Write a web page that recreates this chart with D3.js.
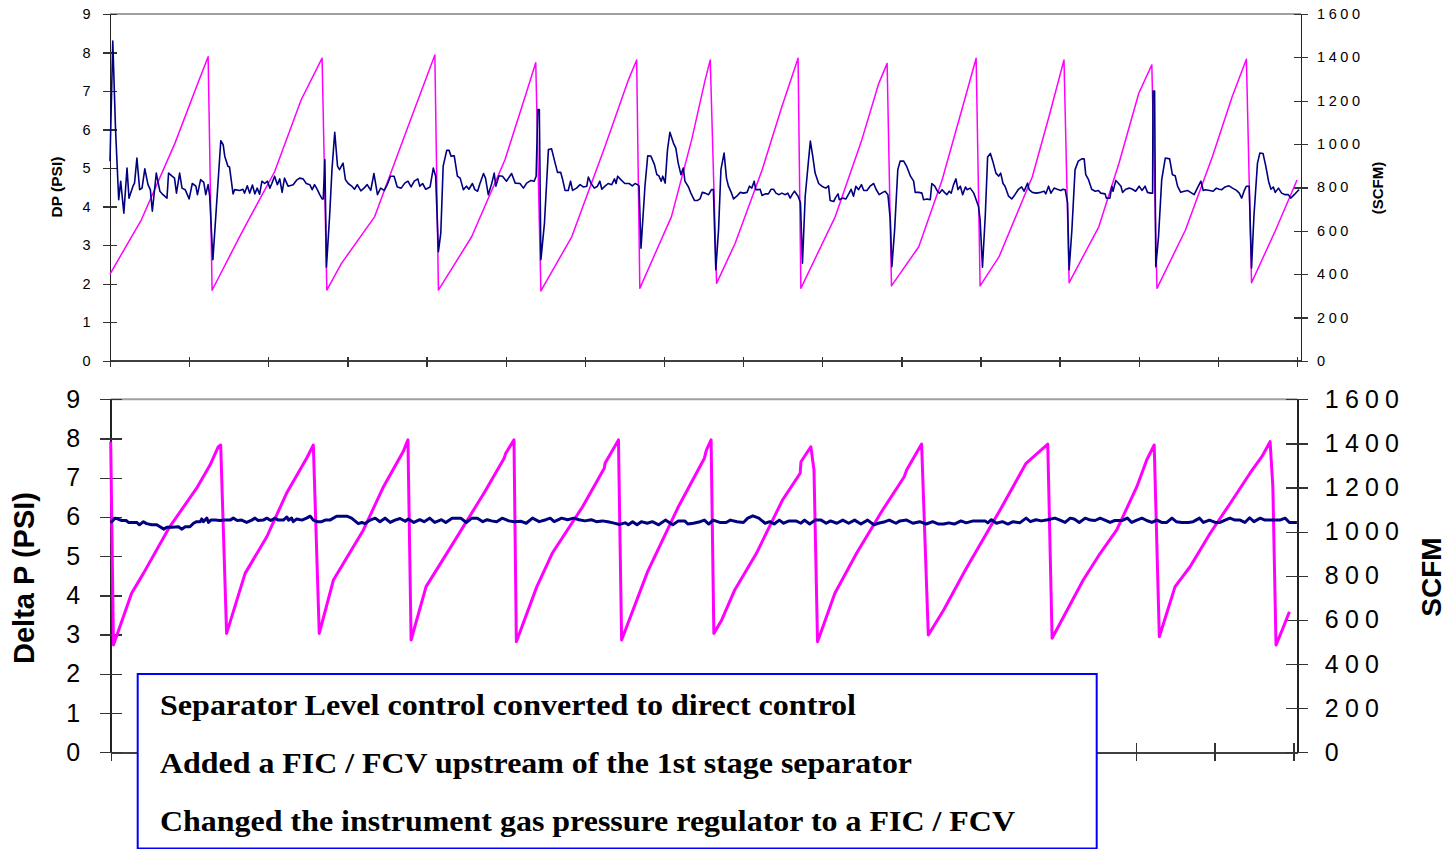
<!DOCTYPE html>
<html>
<head>
<meta charset="utf-8">
<script src="https://cdn.jsdelivr.net/npm/d3@7"></script>
<style>
  body { margin: 0; background: #fff; }
  svg { display: block; }
</style>
</head>
<body>
<div id="chart"><svg width="1452" height="849"></svg></div>
<script>
// axis ticks
const dpTicks = [0, 1, 2, 3, 4, 5, 6, 7, 8, 9];
const scfmTicks = [0, 200, 400, 600, 800, 1000, 1200, 1400, 1600];
const sampleTicks = [0, 20, 40, 60, 80, 100, 120, 140, 160, 180, 200, 220, 240, 260, 280, 300];

// before: [sample, DP psi]
const dpBefore = [[0,5.18],[0.7,8.3],[1.4,6.0],[2.2,4.18],[2.7,4.66],[3.5,3.83],[4.3,5.0],[4.8,4.22],[5.8,4.53],[6.2,4.61],[6.8,5.26],[7.5,4.44],[8.1,4.48],[8.8,4.98],[9.6,4.57],[10.2,4.44],[10.7,3.88],[11.7,4.87],[12.6,4.4],[13.4,4.31],[14.4,4.22],[14.8,4.87],[15.7,4.79],[16.3,4.74],[16.8,4.35],[17.6,4.87],[18.2,4.48],[19.0,4.44],[20.0,4.2],[20.8,4.6],[21.7,4.53],[22.1,4.31],[22.9,4.7],[23.7,4.63],[24.2,4.31],[24.8,4.57],[25.2,4.27],[26.0,2.62],[26.9,4.0],[28.0,5.71],[28.6,5.61],[29.0,5.31],[29.8,5.05],[30.2,5.03],[31.1,4.33],[31.5,4.44],[32.8,4.42],[33.6,4.45],[34.0,4.35],[34.7,4.54],[35.3,4.35],[36.0,4.56],[36.6,4.33],[37.2,4.48],[37.8,4.32],[38.4,4.66],[39.1,4.6],[39.8,4.66],[40.4,4.48],[40.9,4.6],[41.6,4.79],[42.3,4.57],[42.9,4.72],[43.5,4.37],[44.1,4.74],[45.0,4.53],[46.3,4.57],[47.1,4.68],[47.9,4.74],[48.8,4.72],[49.6,4.6],[50.5,4.57],[51.1,4.44],[51.7,4.57],[52.4,4.44],[53.0,4.31],[53.6,4.2],[53.9,4.2],[54.3,5.22],[54.7,2.43],[55.5,3.75],[56.1,4.96],[56.8,5.93],[57.5,5.05],[58.0,4.96],[58.9,5.13],[59.5,4.7],[60.2,4.6],[61.0,4.54],[61.8,4.45],[62.5,4.57],[63.4,4.41],[64.2,4.48],[65.0,4.57],[65.9,4.42],[66.7,4.86],[67.6,4.31],[68.4,4.48],[69.3,4.42],[70.1,4.58],[70.9,4.79],[71.8,4.79],[72.6,4.51],[73.6,4.48],[74.5,4.61],[75.3,4.66],
  [76.1,4.51],[76.9,4.66],[77.8,4.72],[78.3,4.53],[79.0,4.6],[79.8,4.45],[80.9,4.51],[81.7,5.0],[82.3,4.79],[83.0,2.83],[83.6,3.31],[84.2,5.05],[85.1,5.46],[85.7,5.46],[86.2,5.31],[87.0,5.32],[87.8,4.79],[88.5,4.74],[89.3,4.44],[90.1,4.53],[90.7,4.45],[91.6,4.6],[92.2,4.44],[92.9,4.4],[93.5,4.6],[94.4,4.86],[94.9,4.74],[95.6,4.31],[96.5,4.61],[97.1,4.87],[97.5,4.53],[98.3,4.8],[99.2,4.79],[100.2,4.66],[101.5,4.86],[102.4,4.61],[103.6,4.6],[104.5,4.48],[105.3,4.61],[106.4,4.68],[107.2,4.66],[107.7,4.79],[108.1,6.52],[108.5,6.52],[108.9,2.62],[109.8,3.57],[110.8,5.48],[111.6,5.5],[112.5,5.13],[113.1,4.89],[113.9,4.89],[114.4,4.7],[115.0,4.42],[115.8,4.42],[116.4,4.66],[116.9,4.42],[117.9,4.48],[118.8,4.57],[119.6,4.51],[120.5,4.53],[120.9,4.77],[121.6,4.6],[122.4,4.48],[123.2,4.53],[123.8,4.66],[124.3,4.45],[125.1,4.53],[125.9,4.6],[126.8,4.57],[127.5,4.72],[127.9,4.6],[128.3,4.79],[129.1,4.7],[130.1,4.6],[131.2,4.6],[132.0,4.54],[132.7,4.6],[133.3,4.57],[133.7,4.54],[134.2,2.92],[135.2,4.53],[135.9,5.32],[136.7,5.31],[137.6,5.09],[138.2,4.83],[138.7,4.8],[139.3,4.66],[139.7,4.79],[140.3,4.61],[140.9,5.48],[141.5,5.93],[142.4,5.65],[143.0,5.52],[143.6,5.13],[144.3,4.83],[144.9,5.0],[145.3,4.66],[146.2,4.51],[146.8,4.35],[147.7,4.16],[148.5,4.16],[149.1,4.2],[149.7,4.37],
  [150.4,4.35],[151.3,4.31],[152.0,4.44],[152.5,4.44],[153.1,2.36],[153.8,3.4],[154.4,4.96],[155.2,5.39],[155.8,4.74],[156.3,4.53],[157.0,4.37],[157.6,4.2],[158.4,4.27],[159.3,4.37],[160.1,4.35],[161.0,4.37],[161.6,4.53],[162.2,4.48],[162.8,4.66],[163.2,4.44],[163.9,4.44],[164.3,4.45],[164.8,4.29],[165.6,4.33],[166.4,4.33],[167.1,4.45],[167.7,4.45],[168.3,4.35],[169.1,4.31],[169.8,4.35],[170.7,4.31],[171.3,4.35],[171.9,4.22],[172.5,4.33],[173.0,4.4],[173.9,4.27],[174.5,4.1],[175.0,2.53],[175.7,4.27],[176.4,5.05],[177.0,5.7],[177.6,5.31],[178.2,4.87],[179.1,4.6],[179.9,4.53],[180.9,4.48],[181.6,4.54],[182.0,4.16],[182.9,4.13],[183.3,4.22],[184.0,4.33],[184.3,4.18],[185.2,4.22],[186.0,4.2],[186.7,4.33],[187.3,4.45],[187.9,4.27],[188.5,4.53],[189.2,4.44],[189.9,4.57],[190.5,4.42],[191.3,4.42],[192.1,4.53],[193.0,4.6],[193.6,4.45],[194.4,4.31],[195.3,4.37],[195.9,4.4],[196.6,4.31],[197.2,3.66],[197.6,2.44],[198.3,3.4],[199.1,4.96],[199.7,5.18],[200.6,5.18],[201.4,5.03],[202.3,4.79],[203.1,4.66],[203.5,4.37],[204.4,4.37],[205.2,4.35],[205.6,4.18],[206.5,4.2],[207.3,4.18],[207.7,4.6],[208.4,4.54],[209.0,4.42],[209.6,4.35],[210.3,4.44],[210.9,4.37],[211.5,4.31],[212.1,4.4],[212.6,4.35],[213.2,4.57],[213.8,4.72],[214.3,4.44],[214.9,4.53],[215.5,4.31],[216.2,4.51],[216.6,4.44],[217.4,4.48],[218.3,4.35],[218.9,4.18],[219.5,4.0],[219.9,3.66],[220.5,2.43],[221.2,3.75],[221.8,5.29],[222.5,5.38],[223.1,5.18],[223.9,4.87],[224.6,4.79],
  [225.1,4.87],[225.7,4.6],[226.2,4.53],[227.1,4.27],[227.9,4.2],[228.7,4.31],[229.6,4.45],[230.4,4.51],[231.0,4.4],[231.9,4.61],[232.3,4.44],[233.1,4.37],[234.1,4.35],[235.2,4.37],[236.1,4.4],[236.5,4.33],[237.2,4.53],[237.8,4.35],[238.6,4.48],[239.4,4.45],[240.3,4.42],[240.9,4.45],[241.4,4.44],[242.0,4.1],[242.4,2.36],[243.1,3.4],[243.9,4.96],[244.7,5.18],[245.6,5.24],[246.2,5.24],[246.6,4.83],[247.3,4.7],[248.1,4.45],[249.0,4.4],[249.8,4.42],[250.4,4.35],[251.5,4.33],[251.8,4.22],[252.7,4.22],[253.2,4.53],[253.5,4.4],[254.2,4.68],[254.9,4.6],[255.5,4.53],[255.9,4.37],[256.7,4.45],[257.6,4.48],[258.4,4.45],[259.2,4.4],[260.1,4.53],[260.8,4.42],[261.6,4.53],[262.2,4.37],[263.0,4.35],[263.5,4.35],[263.6,7.0],[264.0,7.0],[264.3,2.44],[265.0,3.23],[265.8,4.7],[266.7,5.26],[267.8,5.24],[268.5,4.83],[269.2,4.8],[269.8,4.53],[270.6,4.37],[271.5,4.4],[272.3,4.42],[273.1,4.37],[274.0,4.31],[274.8,4.48],[275.7,4.66],[276.3,4.42],[276.9,4.44],[277.9,4.42],[278.8,4.4],[279.6,4.48],[280.3,4.45],[281.0,4.44],[281.8,4.51],[282.8,4.54],[283.7,4.48],[284.7,4.42],[285.4,4.35],[286.0,4.22],[286.6,4.4],[287.2,4.53],[287.9,4.53],[288.5,2.41],[289.1,3.75],[290.0,5.13],[290.6,5.39],[291.4,5.38],[292.1,5.05],[292.8,4.66],[293.4,4.45],[294.0,4.51],[294.5,4.37],[295.3,4.48],[296.1,4.35],[297.0,4.31],[297.8,4.31],[298.4,4.22],[299.3,4.31],[300.1,4.4],[300.5,4.44]];

// before: [sample, SCFM]
const scfmBefore = [[0,400],[7.9,649],[16.4,1003],[22.2,1280],[24.8,1403],[25.8,325],[33.2,588],[41.6,872],[48.3,1203],[53.6,1396],[54.8,326],[58.5,449],[66.9,665],[75.3,1080],[82.1,1411],[83.0,326],[91.4,572],[99.8,926],[104.9,1218],[107.6,1375],[108.9,322],[116.7,572],[125.1,988],[131.0,1295],[133.1,1388],[133.9,334],[141.9,665],[147.0,1019],[150.4,1295],[151.7,1388],[153.3,357],[158.0,542],[164.8,880],[169.8,1172],[173.9,1396],[174.6,334],[183.3,665],[190.0,1019],[194.3,1280],[196.4,1372],[197.5,345],[204.4,526],[210.3,834],[216.2,1218],[218.9,1396],[219.9,345],[224.7,480],[233.1,849],[237.3,1126],[241.1,1388],[242.4,360],[249.9,618],[255.0,911],[260.0,1234],[263.3,1365],[264.6,334],[271.8,603],[278.6,941],[283.6,1218],[287.2,1391],[288.5,360],[294.6,603],[300.0,834]];

// after: [sample, Delta P psi]
const dpAfter = [[0,5.85],[1.1,5.97],[1.7,5.95],[2.8,5.91],[3.9,5.91],[4.5,5.86],[6.6,5.86],[7.3,5.8],[8.3,5.88],[9.1,5.83],[10.4,5.8],[11.7,5.8],[12.5,5.75],[13.5,5.69],[14.2,5.74],[15.5,5.74],[17.2,5.75],[18.0,5.69],[18.9,5.75],[20.1,5.75],[21.0,5.84],[21.8,5.88],[22.7,5.88],[23.1,5.95],[23.5,5.88],[24.4,5.97],[24.8,5.86],[25.4,5.92],[26.5,5.92],[27.7,5.91],[29.0,5.92],[30.3,5.92],[31.1,5.97],[32.1,5.91],[33.2,5.92],[34.5,5.86],[35.8,5.92],[36.6,5.97],[37.4,5.91],[38.7,5.92],[39.6,5.97],[40.6,5.91],[41.7,5.97],[42.5,5.92],[43.8,5.92],[44.7,6.0],[45.1,5.92],[45.9,5.97],[46.3,5.88],[47.2,5.95],[48.5,5.92],[49.7,5.97],[50.6,6.02],[51.4,5.92],[52.4,5.88],[53.5,5.88],[54.4,5.92],[55.6,5.92],[57.3,6.02],[59.9,6.02],[61.1,5.97],[62.8,5.83],[63.7,5.86],[64.5,5.83],[65.8,5.92],[67.1,5.97],[68.3,5.88],[69.6,5.97],[70.9,5.86],[72.1,5.92],[73.4,5.96],[74.7,5.89],[75.5,5.95],[76.9,5.86],[78.4,5.93],[79.5,5.88],[80.9,5.97],[82.2,5.86],[83.9,5.93],[85.0,5.86],[86.6,5.97],[88.8,5.97],[90.2,5.86],[91.6,5.97],[93.0,5.97],[94.4,5.88],[95.5,5.93],[96.6,5.9],[97.9,5.88],[99.3,5.97],[101.0,5.9],[102.3,5.88],[104.1,5.89],[105.4,5.84],[107.0,5.97],[108.7,5.88],[110.4,5.93],[111.5,5.97],[112.5,5.88],[114.4,5.97],[115.9,5.93],[117.5,5.97],[118.8,5.93],[120.3,5.9],[121.9,5.93],[123.2,5.88],[124.7,5.9],[126.1,5.88],[127.4,5.85],[129.1,5.81],[130.5,5.85],[131.3,5.8],[132.4,5.88],[133.5,5.8],[134.6,5.88],[136.1,5.84],[137.4,5.88],[139.0,5.8],[140.7,5.92],[142.6,5.8],[144.0,5.9],[145.6,5.9],[146.4,5.82],[147.8,5.84],[149.5,5.88],[150.6,5.92],[151.7,5.82],[152.8,5.92],[154.5,5.86],[156.1,5.86],[157.2,5.92],[158.9,5.88],[160.5,5.86],[161.6,5.97],[162.9,6.03],[164.4,5.97],[166.0,5.84],[167.2,5.88],[168.3,5.82],[169.6,5.92],[170.7,5.84],[172.1,5.9],[173.8,5.9],[175.1,5.84],[176.0,5.92],[177.3,5.82],[178.7,5.92],[180.2,5.92],[181.5,5.84],[182.6,5.9],[184.2,5.84],[185.7,5.92],[187.2,5.84],[188.7,5.92],[190.3,5.82],[192.0,5.92],[193.6,5.8],[194.7,5.84],[196.4,5.88],[197.5,5.92],[199.2,5.84],[200.2,5.9],[201.9,5.92],[203.5,5.84],[205.2,5.88],[206.9,5.82],[208.5,5.88],[210.0,5.82],[211.3,5.82],[212.6,5.85],[214.0,5.82],[215.7,5.9],[217.0,5.85],[218.8,5.9],[220.1,5.9],[221.8,5.9],[222.5,5.85],[223.4,5.93],[224.7,5.84],[226.2,5.88],[227.6,5.82],[228.9,5.88],[230.6,5.85],[232.2,5.97],[233.3,5.88],[234.7,5.93],[236.1,5.9],[237.7,5.93],[239.5,5.97],[240.8,5.92],[242.1,5.86],[243.4,5.97],[244.4,5.95],[245.7,5.86],[247.2,5.97],[248.5,5.92],[249.7,5.91],[251.0,5.97],[252.2,5.92],[253.5,5.86],[254.7,5.91],[256.5,5.91],[257.9,5.97],[259.0,5.86],[260.3,5.92],[261.6,5.97],[262.8,5.91],[264.1,5.86],[265.4,5.92],[266.6,5.86],[267.9,5.86],[269.2,5.97],[270.3,5.88],[271.7,5.86],[273.4,5.86],[274.6,5.88],[276.2,5.97],[277.2,5.86],[278.7,5.92],[280.2,5.86],[281.4,5.86],[282.7,5.92],[283.9,5.97],[285.2,5.92],[286.5,5.92],[287.7,5.86],[288.9,5.98],[290.0,5.88],[291.6,5.97],[292.8,5.92],[294.1,5.92],[295.4,5.92],[296.6,5.92],[297.9,5.97],[299.0,5.86],[300.9,5.86]];

// after: [sample, SCFM]
const scfmAfter = [[0,1408],[0.7,486],[5.3,721],[8.3,811],[15.0,1023],[21.8,1197],[25.2,1302],[27.3,1385],[27.9,1393],[29.4,539],[34.1,811],[39.6,977],[44.6,1174],[49.7,1333],[51.4,1393],[52.9,539],[56.5,781],[64.1,1008],[69.2,1204],[74.2,1363],[75.4,1416],[76.2,509],[80.0,751],[86.6,940],[94.9,1181],[99.8,1333],[100.2,1355],[102.3,1416],[102.9,501],[108.1,751],[112.0,902],[119.7,1113],[125.2,1287],[125.4,1310],[128.8,1416],[129.6,509],[136.2,819],[144.0,1113],[150.6,1333],[151.1,1370],[152.3,1416],[153.0,539],[155.0,600],[158.3,736],[163.8,902],[170.4,1143],[174.9,1265],[175.1,1317],[177.6,1385],[178.4,1280],[179.3,501],[183.7,721],[189.2,902],[195.8,1098],[201.3,1249],[201.9,1280],[205.7,1397],[207.4,532],[211.3,645],[216.8,826],[225.6,1098],[232.2,1310],[237.7,1397],[238.8,517],[246.7,781],[251.0,902],[255.2,1008],[260.3,1204],[262.8,1325],[264.7,1393],[266.0,524],[270.0,751],[273.8,841],[278.9,993],[284.0,1129],[289.0,1265],[292.0,1340],[294.1,1408],[294.8,1204],[295.6,486],[297.5,569],[299.0,637]];

const noteLines = [
  "Separator Level control converted to direct control",
  "Added a FIC / FCV upstream of the 1st stage separator",
  "Changed the instrument gas pressure regulator to a FIC / FCV"
];

const svg = d3.select("#chart svg");
const sans = "'Liberation Sans', Arial, sans-serif";

function drawPanel(p) {
  const g = svg.append("g");

  const x = d3.scaleLinear().domain([0, 301]).range([p.left, p.right]);
  const yDp = d3.scaleLinear().domain([0, 9]).range([p.bottom, p.top]);
  const ySc = d3.scaleLinear().domain([0, 1600]).range([p.bottom, p.top]);

  // top frame line
  g.append("line")
    .attr("x1", p.left)
    .attr("x2", p.right)
    .attr("y1", p.top)
    .attr("y2", p.top)
    .style("stroke", "#a0a0a0")
    .style("stroke-width", 2);

  // category axis
  const ax = g
    .append("g")
    .attr("transform", "translate(0," + p.bottom + ")")
    .call(
      d3.axisBottom(x)
        .tickValues(sampleTicks)
        .tickSizeInner(p.xTick)
        .tickSizeOuter(0)
        .tickFormat("")
    );
  ax.select(".domain").style("stroke", "#404040").style("stroke-width", 2);
  ax.selectAll(".tick line")
    .attr("y1", -p.xTickUp)
    .style("stroke", "#333")
    .style("stroke-width", 1.3);

  // left axis
  const al = g
    .append("g")
    .attr("transform", "translate(" + p.left + ",0)")
    .call(
      d3.axisLeft(yDp)
        .tickValues(dpTicks)
        .tickSizeInner(p.yTick)
        .tickSizeOuter(0)
        .tickPadding(p.padLeft)
        .tickFormat(d3.format("d"))
    );
  al.select(".domain").style("stroke", "#222").style("stroke-width", 1.6);
  al.selectAll(".tick line")
    .attr("x1", p.yTick)
    .style("stroke", "#333")
    .style("stroke-width", 1.3);
  al.selectAll(".tick text")
    .style("font-family", sans)
    .style("font-size", p.tickFont + "px")
    .style("fill", "#000");

  // right axis
  const ar = g
    .append("g")
    .attr("transform", "translate(" + p.right + ",0)")
    .call(
      d3.axisRight(ySc)
        .tickValues(scfmTicks)
        .tickSizeInner(p.yTick)
        .tickSizeOuter(0)
        .tickPadding(p.padRight)
        .tickFormat(d3.format("d"))
    );
  ar.select(".domain").style("stroke", "#222").style("stroke-width", 1.6);
  ar.selectAll(".tick line")
    .attr("x1", -p.yTick)
    .style("stroke", "#333")
    .style("stroke-width", 1.3);
  ar.selectAll(".tick text")
    .style("font-family", sans)
    .style("font-size", p.tickFont + "px")
    .style("letter-spacing", p.spacing + "px")
    .style("fill", "#000");

  g.selectAll(".domain, .tick line").attr("shape-rendering", "crispEdges");

  // series
  const scfmLine = d3.line().x((d) => x(d[0])).y((d) => ySc(d[1]));
  const dpLine = d3.line().x((d) => x(d[0])).y((d) => yDp(d[1]));

  g.append("path")
    .datum(p.scfm)
    .attr("fill", "none")
    .attr("stroke", "#ff00ff")
    .attr("stroke-width", p.scfmWidth)
    .attr("stroke-linejoin", "round")
    .attr("d", scfmLine);

  g.append("path")
    .datum(p.dp)
    .attr("fill", "none")
    .attr("stroke", "#000080")
    .attr("stroke-width", p.dpWidth)
    .attr("stroke-linejoin", "round")
    .attr("d", dpLine);

  // axis titles
  p.titles.forEach((t) => {
    g.append("text")
      .attr("transform", "translate(" + t.x + "," + t.y + ") rotate(-90)")
      .attr("text-anchor", "middle")
      .attr("dy", "0.35em")
      .style("font-family", sans)
      .style("font-weight", "bold")
      .style("font-size", t.size + "px")
      .text(t.text);
  });
}

drawPanel({
  left: 110, right: 1301, top: 14, bottom: 360.7,
  xTick: 6, xTickUp: 4, yTick: 7, padLeft: 12.5, padRight: 9,
  tickFont: 14.5, spacing: 3.6,
  dp: dpBefore, scfm: scfmBefore, dpWidth: 1.6, scfmWidth: 1.5,
  titles: [
    { text: "DP (PSI)", x: 57, y: 187, size: 15.5 },
    { text: "(SCFM)", x: 1378, y: 188, size: 15 }
  ]
});

drawPanel({
  left: 110.7, right: 1297.3, top: 399.3, bottom: 752.3,
  xTick: 9, xTickUp: 9, yTick: 11, padLeft: 19.5, padRight: 16.5,
  tickFont: 25, spacing: 6.2,
  dp: dpAfter, scfm: scfmAfter, dpWidth: 3, scfmWidth: 3,
  titles: [
    { text: "Delta P (PSI)", x: 24, y: 578, size: 29 },
    { text: "SCFM", x: 1431, y: 577, size: 28 }
  ]
});

// note box
const note = svg.append("g");
note.append("rect")
  .attr("x", 137.7)
  .attr("y", 674)
  .attr("width", 959)
  .attr("height", 174.5)
  .attr("fill", "#fff")
  .attr("stroke", "#0000ff")
  .attr("stroke-width", 2);

const noteWidths = [696, 752, 855];
note.selectAll("text.note")
  .data(noteLines)
  .join("text")
  .attr("class", "note")
  .attr("x", 160)
  .attr("y", (d, i) => 715 + i * 58)
  .attr("textLength", (d, i) => noteWidths[i])
  .attr("lengthAdjust", "spacingAndGlyphs")
  .style("font-family", "'Liberation Serif', 'Times New Roman', serif")
  .style("font-weight", "bold")
  .style("font-size", "30px")
  .style("fill", "#000")
  .text((d) => d);
</script>
</body>
</html>
